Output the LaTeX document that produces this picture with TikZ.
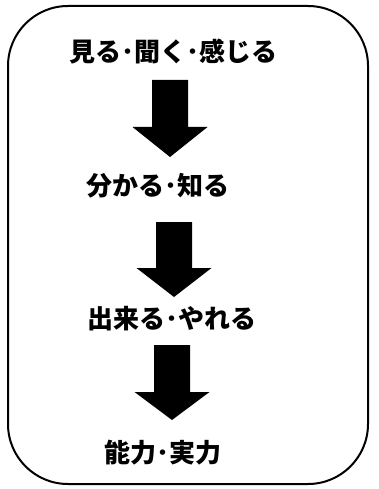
\documentclass[tikz,border=0pt]{standalone}
\usepackage{fontspec}
\newfontfamily\jp{Noto Sans CJK JP}
\tikzset{
  lbl/.style={inner sep=0pt, font=\jp\bfseries\fontsize{26}{28}\selectfont},
  blockarrow/.style={fill=black, draw=none},
  frame/.style={line width=2pt, rounded corners=60pt}
}
\begin{document}
\begin{tikzpicture}[x=1pt,y=1pt]
\useasboundingbox (0,0) rectangle (379,-489);
\draw[frame] (8,-6) rectangle (368,-484);
\node[lbl] (t1) at (173,-52) {見る･聞く･感じる};
\node[lbl] (t2) at (158,-186) {分かる･知る};
\node[lbl] (t3) at (172,-319) {出来る･やれる};
\node[lbl] (t4) at (163,-453) {能力･実力};
% arrows
\fill[blockarrow] (152,-80) -- (188,-80) -- (188,-127) -- (207.5,-127) -- (170,-157) -- (132.5,-127) -- (152,-127) -- cycle;
\fill[blockarrow] (156,-222) -- (192,-222) -- (192,-268) -- (211.5,-268) -- (174,-297) -- (136.5,-268) -- (156,-268) -- cycle;
\fill[blockarrow] (154,-345) -- (190,-345) -- (190,-392) -- (209.5,-392) -- (172,-420) -- (134.5,-392) -- (154,-392) -- cycle;
\end{tikzpicture}
\end{document}
